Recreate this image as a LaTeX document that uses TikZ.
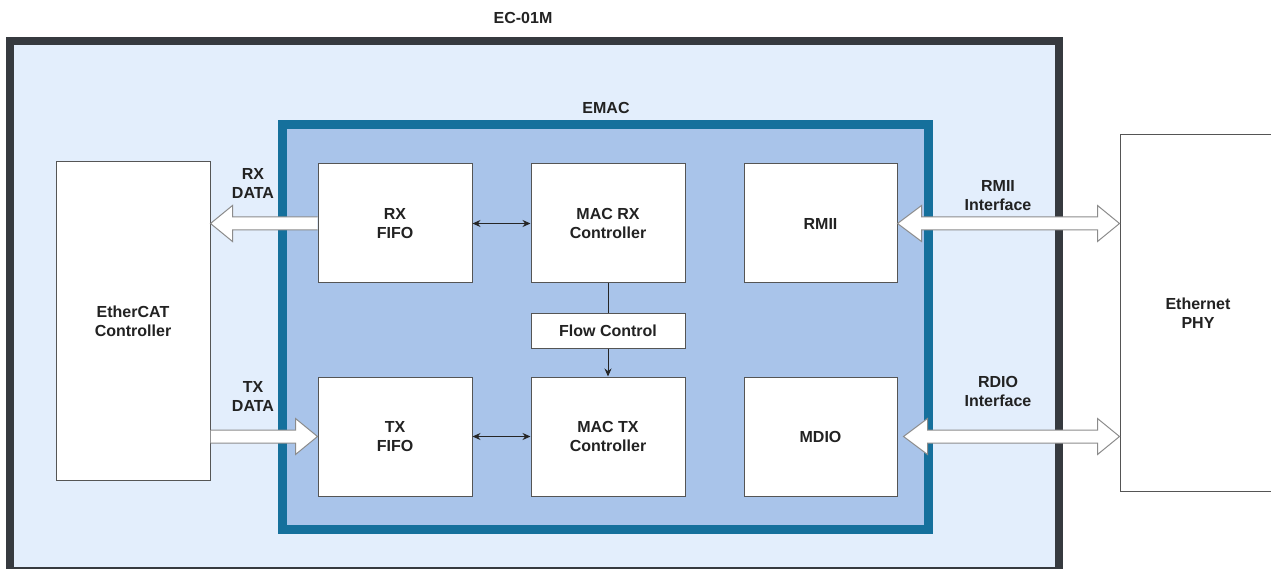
\documentclass[tikz,border=0pt]{standalone}
\usepackage{fontspec}
\setmainfont{Liberation Sans}
\usepackage{tikz}
\usetikzlibrary{arrows.meta, positioning, calc}
\definecolor{ecfill}{HTML}{E3EEFC}
\definecolor{ecline}{HTML}{363A3F}
\definecolor{emacfill}{HTML}{A9C4EA}
\definecolor{emacline}{HTML}{15709C}
\definecolor{boxline}{HTML}{555555}
\definecolor{pipeline}{HTML}{8C8C8C}
\definecolor{txtcolor}{HTML}{222222}

% hollow bus arrows (tail, tip)
\newcommand{\pipeleft}[2]{%
  \draw[pipe] (#1) ++(0,-6.5) -- ($(#2)+(22,-6.5)$) -- ++(0,-11.5) -- (#2) -- ++(22,18) -- ++(0,-11.5) -- ($(#1)+(0,6.5)$);}
\newcommand{\piperight}[2]{%
  \draw[pipe] (#1) ++(0,-6.5) -- ($(#2)+(-22,-6.5)$) -- ++(0,-11.5) -- (#2) -- ++(-22,18) -- ++(0,-11.5) -- ($(#1)+(0,6.5)$);}
% double headed bus arrow (left tip, right tip)
\newcommand{\pipeboth}[2]{%
  \draw[pipe] (#1) -- ++(24,-18) -- ++(0,11.5) -- ($(#2)+(-22,-6.5)$) -- ++(0,-11.5) -- (#2) -- ++(-22,18) -- ++(0,-11.5) -- ($(#1)+(24,6.5)$) -- ++(0,11.5) -- cycle;}

\begin{document}
\begin{tikzpicture}[x=1pt, y=-1pt,
        lbl/.style={font=\fontsize{16}{19}\selectfont\bfseries, text=txtcolor, align=center, inner sep=0pt},
        block/.style={lbl, draw=boxline, fill=white, line width=1pt, minimum width=154pt, minimum height=119pt},
        pipe/.style={draw=pipeline, fill=white, line width=1pt, line join=miter},
        link/.style={{Stealth[length=8pt, width=7pt]}-{Stealth[length=8pt, width=7pt]}, line width=1pt, draw=black!85},
        feed/.style={-{Stealth[length=8pt, width=7pt]}, line width=1pt, draw=black!85}
    ]
        \useasboundingbox (0,0) rectangle (1271,569);

        % EC-01M module
        \node[draw=ecline, line width=8pt, fill=ecfill, minimum width=1049pt, minimum height=530pt] (ec) at (534.5,306) {};
        \node[lbl] (ectitle) at (523,18) {EC-01M};

        % EMAC
        \node[draw=emacline, line width=9pt, fill=emacfill, minimum width=645.5pt, minimum height=405pt] (emac) at (605.25,327) {};
        \node[lbl] (emactitle) at (606,108) {EMAC};

        % EtherCAT side
        \node[block, minimum height=318pt] (ecat) at (133,321) {EtherCAT\\Controller};

        % EMAC blocks
        \node[block] (rxfifo) at (395,223.5) {RX\\FIFO};
        \node[block] (macrx) at (608,223.5) {MAC RX\\Controller};
        \node[block, minimum width=153pt] (rmii) at (820.5,223.5) {RMII};
        \node[block, minimum height=35pt] (flow) at (608,330.5) {Flow Control};
        \node[block] (txfifo) at (395,436.5) {TX\\FIFO};
        \node[block] (mactx) at (608,436.5) {MAC TX\\Controller};
        \node[block, minimum width=153pt] (mdio) at (820.5,436.5) {MDIO};

        % PHY
        \node[block, minimum width=156pt, minimum height=356pt] (phy) at (1198,313) {Ethernet\\PHY};

        % internal links
        \draw[link] (rxfifo) -- (macrx);
        \draw[link] (txfifo) -- (mactx);
        \draw[line width=1pt, draw=black!85] (macrx) -- (flow);
        \draw[feed] (flow) -- (mactx);

        % data buses
        \coordinate (rxin) at (ecat.east |- rxfifo.west);
        \coordinate (txout) at (ecat.east |- txfifo.west);
        \coordinate (mdioport) at ($(mdio.east)+(6,0)$);
        \coordinate (phyrmii) at (phy.west |- rmii.east);
        \coordinate (phymdio) at (phy.west |- mdio.east);
        \pipeleft{rxfifo.west}{rxin}
        \piperight{txout}{txfifo.west}
        \pipeboth{rmii.east}{phyrmii}
        \pipeboth{mdioport}{phymdio}

        % bus labels
        \node[lbl] (rxlbl) at (253,183.5) {RX\\DATA};
        \node[lbl] (txlbl) at (253,396.5) {TX\\DATA};
        \node[lbl] (rmiilbl) at (998,196) {RMII\\Interface};
        \node[lbl] (rdiolbl) at (998,391.5) {RDIO\\Interface};

    \end{tikzpicture}
\end{document}
